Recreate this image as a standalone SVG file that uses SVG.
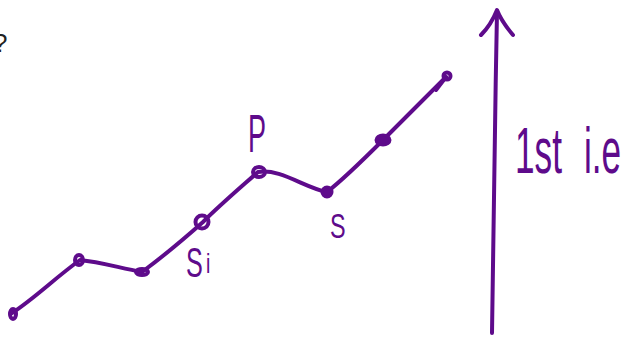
<svg xmlns="http://www.w3.org/2000/svg" width="640" height="337" viewBox="0 0 640 337">
<style>
.ln{fill:none;stroke:#5e0b8b;stroke-width:4;stroke-linecap:round;stroke-linejoin:round}
.nd{fill:none;stroke:#5e0b8b;stroke-width:4}
.fn{fill:#5e0b8b;stroke:#5e0b8b;stroke-width:3}
.lb{fill:#5e0b8b;font-family:"Liberation Sans",Arial,sans-serif}
</style>
<rect width="640" height="337" fill="#fff"/>
<text x="-7" y="52" font-family="Liberation Sans,Arial,sans-serif" font-size="26" fill="#222">?</text>
<g id="connectors">
<path class="ln" d="M12,313 C35,298 55,278 80,260 C100,262 120,268 142,272 C165,255 185,238 203,222 C220,205 240,188 258,172 C280,168 305,188 327,192 C345,178 365,158 383,140 C405,118 425,98 446,77"/>
<path class="ln" d="M446,77 L436,90"/>
<path class="ln" d="M492,333 C493,230 495,120 497,12"/>
<path class="ln" d="M481,35 C488,28 493,20 497,10 C501,20 507,28 513,35"/>
</g>
<g id="n1"><ellipse class="nd" cx="13" cy="314" rx="3" ry="5"/></g>
<g id="n2"><ellipse class="nd" cx="79" cy="260" rx="4" ry="5"/></g>
<g id="n3"><ellipse class="nd" cx="142" cy="272" rx="6" ry="3"/></g>
<g id="n4"><circle class="nd" cx="202" cy="222" r="6.5"/><text class="lb" font-size="42" transform="translate(186,277) scale(0.6,1)">S</text><text class="lb" font-size="28" transform="translate(206,273) scale(0.7,1)">i</text></g>
<g id="nP"><ellipse class="nd" cx="259" cy="172" rx="6" ry="5"/><text class="lb" font-size="54" transform="translate(248,152) scale(0.5,1)">P</text></g>
<g id="nS"><circle class="fn" cx="327" cy="192" r="5"/><text class="lb" font-size="36" transform="translate(330,238) scale(0.65,1)">S</text></g>
<g id="n7"><ellipse class="fn" cx="383" cy="140" rx="7" ry="5"/></g>
<g id="n8"><circle class="nd" cx="447" cy="76" r="3.5"/></g>
<g id="label"><text class="lb" font-size="64" transform="translate(515,173) scale(0.55,1)">1st<tspan dx="40">i.e</tspan></text></g>
</svg>
